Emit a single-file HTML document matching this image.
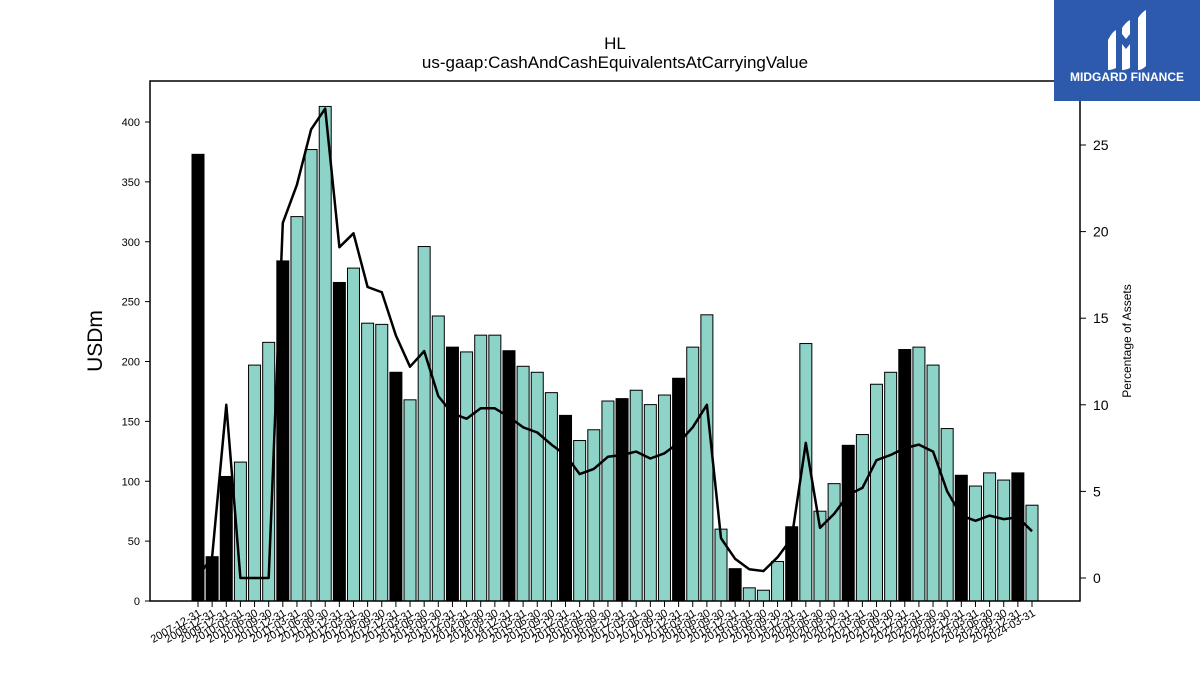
<!DOCTYPE html>
<html><head><meta charset="utf-8"><style>
body{margin:0;background:#fff;}
svg{display:block;font-family:"Liberation Sans","DejaVu Sans",sans-serif;}
</style></head><body>
<svg id="chart" width="1200" height="675" viewBox="0 0 1200 675">
<rect width="1200" height="675" fill="#fff"/>
<text x="615" y="49" text-anchor="middle" font-size="17">HL</text>
<text x="615" y="68" text-anchor="middle" font-size="17">us-gaap:CashAndCashEquivalentsAtCarryingValue</text>
<g id="bars"></g>
<g id="line"></g>
<rect x="150" y="81" width="930" height="520" fill="none" stroke="#000" stroke-width="1.5"/>
<g id="yleft"></g>
<g id="yright"></g>
<g id="xaxis"></g>
<text transform="translate(102,341) rotate(-90)" text-anchor="middle" font-size="21">USDm</text>
<text transform="translate(1131,341) rotate(-90)" text-anchor="middle" font-size="12">Percentage of Assets</text>
<g>
<rect x="1054" y="0" width="146" height="101" fill="#2d5aad"/>
<path d="M1108,40 q4,-8 8,-10 v38 q-4,2 -8,2 z M1122,28 q4,-6 8,-8 v14 l-4,5 l-4,-5 z M1122,44 l4,5 l4,-5 v24 q-4,2 -8,2 z M1138,18 q4,-6 8,-8 v56 q-4,4 -8,4 z" fill="#fff"/>
<text x="1127" y="81" text-anchor="middle" font-size="12" font-weight="bold" fill="#fff">MIDGARD FINANCE</text>
</g>
</svg>
<script>
const dates=["2007-12-31","2008-12-31","2009-12-31"];
for(let y=2010;y<=2024;y++){for(const q of ["03-31","06-30","09-30","12-31"]){if(y===2024&&q!=="03-31")break;dates.push(y+"-"+q);}}
const cash=[373,37,104,116,197,216,284,321,377,413,266,278,232,231,191,168,296,238,212,208,222,222,209,196,191,174,155,134,143,167,169,176,164,172,186,212,239,60,27,11,9,33,62,215,75,98,130,139,181,191,210,212,197,144,105,96,107,101,107,80];
const pct=[0.1,1.2,10.0,0,0,0,20.5,22.7,25.9,27.1,19.1,19.9,16.8,16.5,14.0,12.2,13.1,10.5,9.5,9.2,9.8,9.8,9.3,8.7,8.4,7.7,7.1,6.0,6.3,7.0,7.1,7.3,6.9,7.2,7.8,8.7,10.0,2.3,1.1,0.5,0.4,1.2,2.3,7.8,2.9,3.7,4.8,5.2,6.8,7.1,7.5,7.7,7.3,5.0,3.6,3.3,3.6,3.4,3.5,2.7];
const leftTicks=[0,50,100,150,200,250,300,350,400];
const rightTicks=[0,5,10,15,20,25];
const NS="http://www.w3.org/2000/svg";
const X=i=>198+i*(1032-198)/59;
const YL=v=>601-v*(601-122)/400;
const YR=v=>578-v*(578-145)/25;
function mk(t,a,p){const e=document.createElementNS(NS,t);for(const k in a)e.setAttribute(k,a[k]);p.appendChild(e);return e;}
const bars=document.getElementById('bars');
cash.forEach((v,i)=>{
 const black=dates[i].endsWith("12-31");
 const r=mk('rect',{x:X(i)-6,y:YL(v),width:12,height:601-YL(v),fill:black?'#000':'#8dd3c7',stroke:'#000','stroke-width':1},bars);
 
 
});
const pts=pct.map((v,i)=>X(i).toFixed(1)+','+YR(v).toFixed(1)).join(' ');
const pl=mk('polyline',{points:pts,fill:'none',stroke:'#000','stroke-width':2.5,'stroke-linejoin':'round'},document.getElementById('line'));


const yl=document.getElementById('yleft');
leftTicks.forEach(v=>{
 mk('line',{x1:145,x2:150,y1:YL(v),y2:YL(v),stroke:'#000'},yl);
 const t=mk('text',{x:140,y:YL(v)+4,'text-anchor':'end','font-size':11},yl);t.textContent=v;
 
 
});
const yr=document.getElementById('yright');
rightTicks.forEach(v=>{
 mk('line',{x1:1080,x2:1086,y1:YR(v),y2:YR(v),stroke:'#000'},yr);
 const t=mk('text',{x:1093,y:YR(v)+5,'font-size':14},yr);t.textContent=v;
 
 
});
const xa=document.getElementById('xaxis');
dates.forEach((d,i)=>{
 mk('line',{x1:X(i),x2:X(i),y1:601,y2:607,stroke:'#000'},xa);
 const t=mk('text',{transform:`translate(${X(i)+4},${615}) rotate(-30)`,'text-anchor':'end','font-size':11},xa);t.textContent=d;
 
 
});
</script>
</body></html>
